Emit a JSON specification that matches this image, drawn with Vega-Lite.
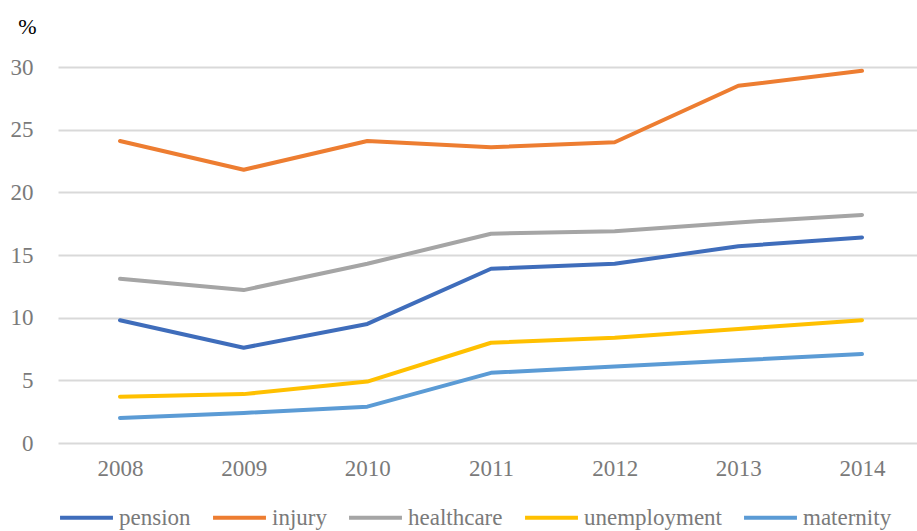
{
  "$schema": "https://vega.github.io/schema/vega-lite/v6.json",
  "width": 859,
  "height": 376,
  "autosize": {"type": "none"},
  "padding": {"left": 58, "top": 67, "right": 0, "bottom": 88},
  "background": "white",
  "config": {
    "view": {"stroke": null},
    "font": "Liberation Serif"
  },
  "data": {
    "values": [
      {"year": "2008", "series": "pension", "value": 9.8},
      {"year": "2009", "series": "pension", "value": 7.6},
      {"year": "2010", "series": "pension", "value": 9.5},
      {"year": "2011", "series": "pension", "value": 13.9},
      {"year": "2012", "series": "pension", "value": 14.3},
      {"year": "2013", "series": "pension", "value": 15.7},
      {"year": "2014", "series": "pension", "value": 16.4},
      {"year": "2008", "series": "injury", "value": 24.1},
      {"year": "2009", "series": "injury", "value": 21.8},
      {"year": "2010", "series": "injury", "value": 24.1},
      {"year": "2011", "series": "injury", "value": 23.6},
      {"year": "2012", "series": "injury", "value": 24.0},
      {"year": "2013", "series": "injury", "value": 28.5},
      {"year": "2014", "series": "injury", "value": 29.7},
      {"year": "2008", "series": "healthcare", "value": 13.1},
      {"year": "2009", "series": "healthcare", "value": 12.2},
      {"year": "2010", "series": "healthcare", "value": 14.3},
      {"year": "2011", "series": "healthcare", "value": 16.7},
      {"year": "2012", "series": "healthcare", "value": 16.9},
      {"year": "2013", "series": "healthcare", "value": 17.6},
      {"year": "2014", "series": "healthcare", "value": 18.2},
      {"year": "2008", "series": "unemployment", "value": 3.7},
      {"year": "2009", "series": "unemployment", "value": 3.9},
      {"year": "2010", "series": "unemployment", "value": 4.9},
      {"year": "2011", "series": "unemployment", "value": 8.0},
      {"year": "2012", "series": "unemployment", "value": 8.4},
      {"year": "2013", "series": "unemployment", "value": 9.1},
      {"year": "2014", "series": "unemployment", "value": 9.8},
      {"year": "2008", "series": "maternity", "value": 2.0},
      {"year": "2009", "series": "maternity", "value": 2.4},
      {"year": "2010", "series": "maternity", "value": 2.9},
      {"year": "2011", "series": "maternity", "value": 5.6},
      {"year": "2012", "series": "maternity", "value": 6.1},
      {"year": "2013", "series": "maternity", "value": 6.6},
      {"year": "2014", "series": "maternity", "value": 7.1}
    ]
  },
  "mark": {"type": "line", "strokeWidth": 4, "strokeCap": "round", "strokeJoin": "round"},
  "encoding": {
    "x": {
      "field": "year",
      "type": "ordinal",
      "scale": {"type": "point", "padding": 0.473, "align": 0.53},
      "axis": {
        "title": null,
        "labelAngle": 0,
        "labelFont": "Liberation Serif",
        "labelFontSize": 23,
        "labelColor": "#7a7a7a",
        "labelPadding": 14,
        "ticks": false,
        "domain": false,
        "grid": false
      }
    },
    "y": {
      "field": "value",
      "type": "quantitative",
      "scale": {"domain": [0, 30], "nice": false},
      "axis": {
        "values": [0, 5, 10, 15, 20, 25, 30],
        "title": "%",
        "titleAngle": 0,
        "titleFont": "Liberation Serif",
        "titleFontSize": 22,
        "titleFontWeight": "normal",
        "titleColor": "#000000",
        "titleAnchor": "end",
        "titleAlign": "center",
        "titleBaseline": "middle",
        "titleX": -31,
        "titleY": -41,
        "labelFont": "Liberation Serif",
        "labelFontSize": 23,
        "labelColor": "#7a7a7a",
        "labelPadding": 25,
        "ticks": false,
        "domain": false,
        "grid": true,
        "gridColor": "#d9d9d9",
        "gridWidth": 2
      }
    },
    "color": {
      "field": "series",
      "type": "nominal",
      "scale": {
        "domain": ["pension", "injury", "healthcare", "unemployment", "maternity"],
        "range": ["#3f6dbb", "#ed7d31", "#a5a5a5", "#ffc000", "#5b9bd5"]
      },
      "legend": {
        "title": null,
        "orient": "bottom",
        "direction": "horizontal",
        "offset": 9,
        "symbolType": "stroke",
        "symbolSize": 2800,
        "symbolStrokeWidth": 4,
        "labelFont": "Liberation Serif",
        "labelFontSize": 23,
        "labelColor": "#7a7a7a",
        "labelOffset": 4,
        "columnPadding": 14
      }
    }
  }
}
